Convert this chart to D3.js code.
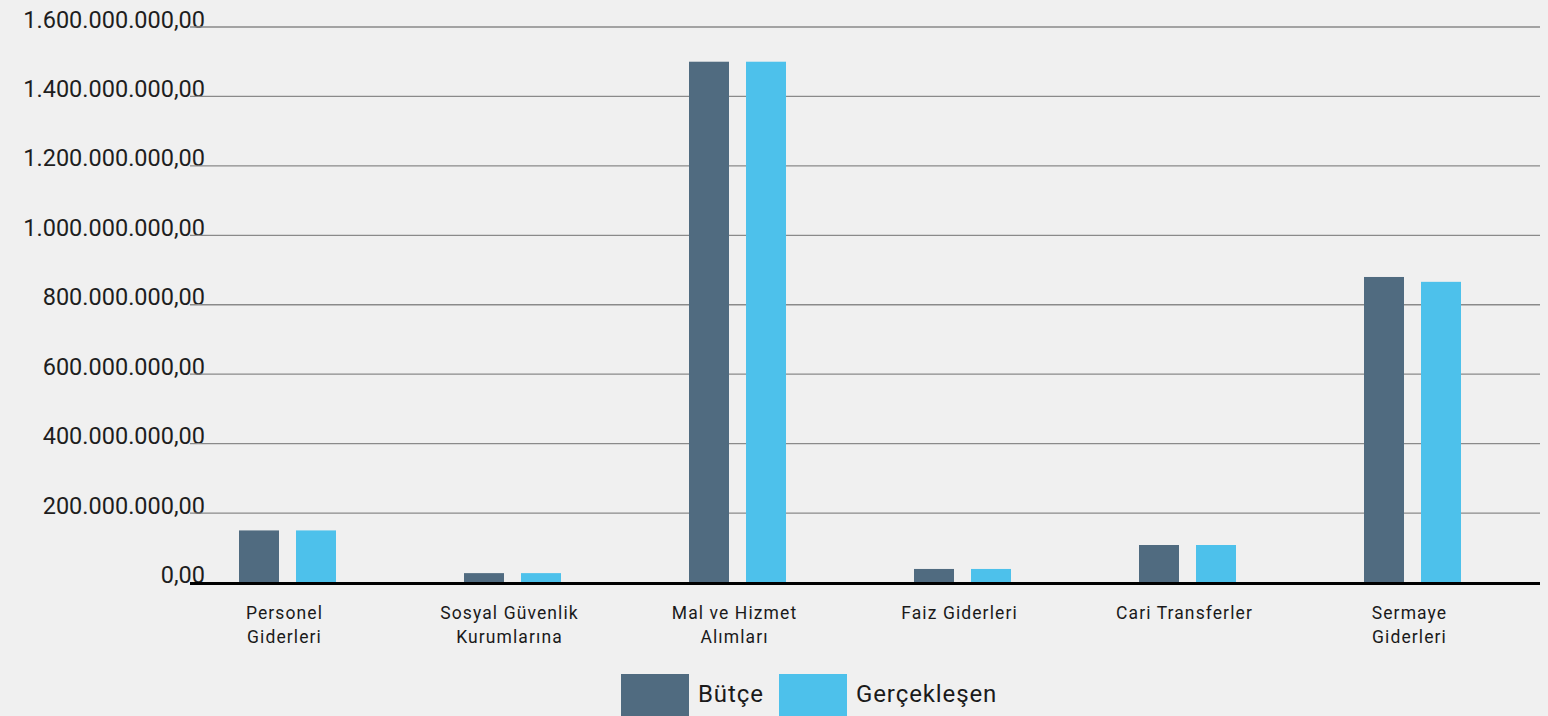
<!DOCTYPE html>
<html>
<head>
<meta charset="utf-8">
<script src="https://cdn.jsdelivr.net/npm/d3@7"></script>
<style>
  html, body { margin: 0; padding: 0; background: #f0f0f0; }
  svg { display: block; font-family: Roboto, "Noto Sans", sans-serif; }
</style>
</head>
<body>
<svg id="chart" width="1548" height="716"></svg>
<script>
// ---- data ----
const categories = [
  ["Personel", "Giderleri"],
  ["Sosyal Güvenlik", "Kurumlarına"],
  ["Mal ve Hizmet", "Alımları"],
  ["Faiz Giderleri"],
  ["Cari Transferler"],
  ["Sermaye", "Giderleri"]
];
const seriesNames = ["Bütçe", "Gerçekleşen"];
const butce       = [150000000, 27000000, 1500000000, 39000000, 108000000, 880000000];
const gerceklesen = [150000000, 27000000, 1500000000, 39000000, 108000000, 866000000];
const yTicks = [0, 200000000, 400000000, 600000000, 800000000, 1000000000, 1200000000, 1400000000, 1600000000];
const colors = ["#506b80", "#4dc1eb"];

// ---- layout ----
const svg = d3.select("#chart");
const plotLeft = 190, plotRight = 1540, plotTop = 27, plotBottom = 582.5;
const catKeys = categories.map(c => c.join(" "));
const seriesValues = [butce, gerceklesen];

const x0 = d3.scaleBand().domain(catKeys).range([plotLeft, plotRight]).paddingInner(0).paddingOuter(0);
const groupOffset = 49, groupWidth = 97;
const x1 = d3.scaleBand().domain(seriesNames).range([0, groupWidth]).paddingInner(17 / 57).paddingOuter(0);
const y = d3.scaleLinear().domain([0, 1600000000]).range([plotBottom, plotTop]);

const tr = d3.formatLocale({decimal: ",", thousands: ".", grouping: [3], currency: ["", ""]});
const fmt = tr.format(",.2f");

// y axis labels
const yAxis = d3.axisLeft(y).tickValues(yTicks).tickFormat(fmt).tickSize(0).tickPadding(0);
const ga = svg.append("g").attr("transform", `translate(205,0)`).call(yAxis);
ga.select(".domain").remove();
ga.selectAll("text")
  .attr("font-family", "Roboto, sans-serif")
  .attr("font-size", 23.5)
  .attr("fill", "#1e1e1e")
  .attr("dy", 0)
  .attr("text-anchor", "end");

// gridlines
svg.append("g").selectAll("line")
  .data(yTicks.filter(d => d > 0))
  .join("line")
  .attr("x1", plotLeft).attr("x2", plotRight)
  .attr("y1", d => y(d)).attr("y2", d => y(d))
  .attr("stroke", "#8a8a8a").attr("stroke-width", 1.3);

// bars
const groups = svg.append("g").selectAll("g")
  .data(catKeys)
  .join("g")
  .attr("transform", d => `translate(${x0(d) + groupOffset},0)`);

groups.selectAll("rect")
  .data((d, i) => seriesNames.map((s, j) => ({s, v: seriesValues[j][i], j})))
  .join("rect")
  .attr("x", d => x1(d.s))
  .attr("width", x1.bandwidth())
  .attr("y", d => y(d.v))
  .attr("height", d => y(0) - y(d.v))
  .attr("fill", d => colors[d.j]);

// baseline
svg.append("line")
  .attr("x1", plotLeft).attr("x2", plotRight)
  .attr("y1", y(0) + 1).attr("y2", y(0) + 1)
  .attr("stroke", "#000").attr("stroke-width", 3);

// category labels
const labels = svg.append("g").selectAll("text")
  .data(categories)
  .join("text")
  .attr("x", (d, i) => x0(catKeys[i]) + groupOffset + groupWidth / 2 - 3)
  .attr("y", 619)
  .attr("text-anchor", "middle")
  .attr("font-size", 17.5)
  .attr("letter-spacing", 1.1)
  .attr("fill", "#1a1a1a");
labels.selectAll("tspan")
  .data(d => d)
  .join("tspan")
  .attr("x", function() { return d3.select(this.parentNode).attr("x"); })
  .attr("dy", (d, i) => i === 0 ? 0 : 23.5)
  .text(d => d);

// legend
const legendX = [621, 779];
const leg = svg.append("g").selectAll("g")
  .data(seriesNames)
  .join("g")
  .attr("transform", (d, i) => `translate(${legendX[i]},674)`);
leg.append("rect").attr("width", 68).attr("height", 44).attr("fill", (d, i) => colors[i]);
leg.append("text")
  .attr("x", 77).attr("y", 28)
  .attr("font-size", 24)
  .attr("letter-spacing", 0.9)
  .attr("fill", "#1a1a1a")
  .text(d => d);
</script>
</body>
</html>
